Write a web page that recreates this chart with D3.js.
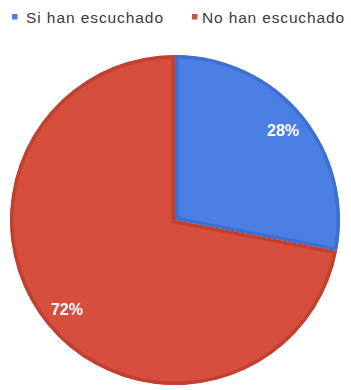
<!DOCTYPE html>
<html>
<head>
<meta charset="utf-8">
<script src="https://cdn.jsdelivr.net/npm/d3@7"></script>
<style>
  html, body { margin: 0; padding: 0; background: #fff; }
  svg { display: block; }
</style>
</head>
<body>
<svg id="chart" width="351" height="390"></svg>
<script>
// Survey answers and their shares
const categories = ["Si han escuchado", "No han escuchado"];
const values = [28, 72];
const fills = ["#4b7fe3", "#d54e3e"];
const edges = ["#3f6fd2", "#c2402f"];

const width = 351, height = 390;
const cx = 175, cy = 220, radius = 165;

const svg = d3.select("#chart");

// Legend row across the top
const legendItems = [
  { x: 12, tx: 26, w: 137 },
  { x: 192, tx: 202, w: 142 }
];
const legend = svg.append("g").attr("class", "legend");
categories.forEach((c, i) => {
  legend.append("rect")
    .attr("x", legendItems[i].x).attr("y", 14)
    .attr("width", 5.5).attr("height", 5.5)
    .attr("fill", fills[i]);
  legend.append("text")
    .attr("x", legendItems[i].tx).attr("y", 23)
    .attr("font-family", "Liberation Sans, Arial, sans-serif")
    .attr("font-size", 15.5)
    .attr("fill", "#3a3a3a")
    .attr("textLength", legendItems[i].w)
    .attr("lengthAdjust", "spacing")
    .text(c);
});

// Pie slices, starting at 12 o'clock, clockwise, in data order
const pie = d3.pie().sort(null).value(d => d);
const arcs = pie(values);
const arc = d3.arc().innerRadius(0).outerRadius(radius);

const g = svg.append("g").attr("transform", `translate(${cx},${cy})`);
const defs = svg.append("defs");

arcs.forEach((a, i) => {
  const d = arc(a);
  defs.append("clipPath").attr("id", "clip" + i)
    .append("path").attr("d", d);
  // filled wedge with a darker inset rim
  g.append("path")
    .attr("d", d)
    .attr("fill", fills[i])
    .attr("stroke", edges[i])
    .attr("stroke-width", 7)
    .attr("stroke-linejoin", "miter")
    .attr("clip-path", `url(#clip${i})`);
});

// Percentage labels inside each wedge
const labelArc = d3.arc().innerRadius(radius * 0.85).outerRadius(radius * 0.85);
arcs.forEach((a, i) => {
  const [x, y] = labelArc.centroid(a);
  g.append("text")
    .attr("x", x).attr("y", y)
    .attr("text-anchor", "middle")
    .attr("dominant-baseline", "central")
    .attr("font-family", "Liberation Sans, Arial, sans-serif")
    .attr("font-weight", "bold")
    .attr("font-size", 16)
    .attr("fill", "#fff")
    .text(values[i] + "%");
});
</script>
</body>
</html>
